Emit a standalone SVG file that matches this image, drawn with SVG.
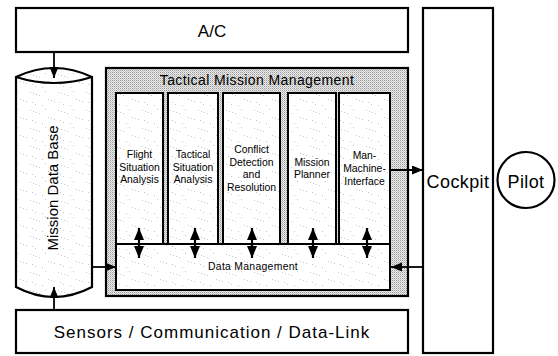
<svg xmlns="http://www.w3.org/2000/svg" width="558" height="356" viewBox="0 0 558 356">
  <defs>
    <!-- halftone grey used for the Tactical Mission Management frame -->
    <pattern id="halftone" width="2" height="2" patternUnits="userSpaceOnUse">
      <rect width="2" height="2" fill="#ececec"/>
      <rect width="1" height="1" fill="#9a9a9a"/>
      <rect x="1" y="1" width="1" height="1" fill="#c4c4c4"/>
    </pattern>
    <!-- faint dotted grain inside the white modules -->
    <pattern id="grain" width="28" height="18" patternUnits="userSpaceOnUse">
      <rect width="28" height="18" fill="#fff"/>
      <g fill="#c8c8c8">
        <rect x="2" y="2" width="1" height="1"/>
        <rect x="5" y="3" width="1" height="1"/>
        <rect x="8" y="4" width="1" height="1"/>
        <rect x="11" y="5" width="1" height="1"/>
        <rect x="17" y="1" width="1" height="1"/>
        <rect x="20" y="9" width="1" height="1"/>
        <rect x="23" y="10" width="1" height="1"/>
        <rect x="26" y="11" width="1" height="1"/>
        <rect x="4" y="12" width="1" height="1"/>
        <rect x="7" y="14" width="1" height="1"/>
        <rect x="14" y="15" width="1" height="1"/>
      </g>
    </pattern>
    <marker id="head" markerUnits="userSpaceOnUse" markerWidth="12" markerHeight="10" refX="11" refY="4.5" orient="auto-start-reverse">
      <path d="M0,0 L11,4.5 L0,9 Z" fill="#000"/>
    </marker>
    <marker id="dhead" markerUnits="userSpaceOnUse" markerWidth="13" markerHeight="11" refX="12" refY="5" orient="auto-start-reverse">
      <path d="M0,0 L12,5 L0,10 Z" fill="#000"/>
    </marker>
  </defs>
  <style>
    .box { fill: #fff; stroke: #000; stroke-width: 2.2; }
    .mod { fill: url(#grain); stroke: #000; stroke-width: 2; }
    .big { font-family: "Liberation Sans", Arial, sans-serif; fill: #000; text-anchor: middle; }
    .small { font-family: "Liberation Sans", Arial, sans-serif; font-size: 10.4px; fill: #000; text-anchor: middle; }
    .link { stroke: #000; stroke-width: 1.8; fill: none; }
    .dbl { stroke: #000; stroke-width: 2.2; fill: none; }
  </style>

  <rect width="558" height="356" fill="#fff"/>

  <g id="ac">
    <rect class="box" x="16" y="8" width="392" height="44"/>
    <text class="big" x="212" y="37" font-size="17">A/C</text>
  </g>

  <g id="cockpit">
    <rect class="box" x="423" y="8" width="70" height="345"/>
    <text class="big" x="458" y="188" font-size="18" letter-spacing="0.4">Cockpit</text>
  </g>

  <g id="pilot">
    <ellipse cx="526" cy="180" rx="28.5" ry="28" fill="#fff" stroke="#000" stroke-width="2.2"/>
    <text class="big" x="526" y="188" font-size="18" letter-spacing="0.4">Pilot</text>
  </g>

  <g id="sensors">
    <rect class="box" x="16" y="310" width="392" height="43"/>
    <text class="big" x="212" y="338" font-size="17" letter-spacing="1">Sensors / Communication / Data-Link</text>
  </g>

  <g id="mission-data-base">
    <path d="M16,77 L16,287 Q54,307 92,287 L92,77 Q54,59 16,77 Z" fill="url(#grain)" stroke="#000" stroke-width="2.2"/>
    <path d="M16,77 Q54,89 92,77" fill="none" stroke="#000" stroke-width="2"/>
    <text class="big" font-size="15" transform="translate(58,188) rotate(-90)">Mission Data Base</text>
  </g>

  <g id="tactical-mission-management">
    <rect x="106" y="68" width="302" height="228" fill="url(#halftone)" stroke="#000" stroke-width="2.2"/>
    <text class="big" x="257" y="85" font-size="14" letter-spacing="0.4">Tactical Mission Management</text>
  </g>

  <g id="flight-situation-analysis">
    <rect class="mod" x="116" y="93" width="47" height="151"/>
    <text class="small" x="139.5" y="158">Flight</text>
    <text class="small" x="139.5" y="171">Situation</text>
    <text class="small" x="139.5" y="183">Analysis</text>
  </g>

  <g id="tactical-situation-analysis">
    <rect class="mod" x="168" y="93" width="50" height="151"/>
    <text class="small" x="193" y="158">Tactical</text>
    <text class="small" x="193" y="171">Situation</text>
    <text class="small" x="193" y="183">Analysis</text>
  </g>

  <g id="conflict-detection-and-resolution">
    <rect class="mod" x="223" y="93" width="57" height="151"/>
    <text class="small" x="251.5" y="153">Conflict</text>
    <text class="small" x="251.5" y="166">Detection</text>
    <text class="small" x="251.5" y="178">and</text>
    <text class="small" x="251.5" y="191">Resolution</text>
  </g>

  <g id="mission-planner">
    <rect class="mod" x="288" y="93" width="48" height="151"/>
    <text class="small" x="312" y="166">Mission</text>
    <text class="small" x="312" y="178">Planner</text>
  </g>

  <g id="man-machine-interface">
    <rect class="mod" x="339" y="93" width="51" height="151"/>
    <text class="small" x="364.5" y="159">Man-</text>
    <text class="small" x="364.5" y="172">Machine-</text>
    <text class="small" x="364.5" y="185">Interface</text>
  </g>

  <g id="data-management">
    <rect class="mod" x="116" y="244" width="274" height="46"/>
    <text class="small" x="253" y="270" letter-spacing="0.3">Data Management</text>
  </g>

  <g id="connectors">
    <line class="link" x1="54" y1="52" x2="54" y2="78" marker-end="url(#head)"/>
    <line class="link" x1="54" y1="310" x2="54" y2="287" marker-end="url(#head)"/>
    <line class="link" x1="92" y1="267" x2="116" y2="267" marker-end="url(#head)"/>
    <line class="link" x1="390" y1="170" x2="423" y2="170" marker-end="url(#head)"/>
    <line class="link" x1="423" y1="267" x2="391" y2="267" marker-end="url(#head)"/>
    <line class="dbl" x1="139" y1="228" x2="139" y2="258" marker-start="url(#dhead)" marker-end="url(#dhead)"/>
    <line class="dbl" x1="195" y1="228" x2="195" y2="258" marker-start="url(#dhead)" marker-end="url(#dhead)"/>
    <line class="dbl" x1="252" y1="228" x2="252" y2="258" marker-start="url(#dhead)" marker-end="url(#dhead)"/>
    <line class="dbl" x1="313" y1="228" x2="313" y2="258" marker-start="url(#dhead)" marker-end="url(#dhead)"/>
    <line class="dbl" x1="367" y1="228" x2="367" y2="258" marker-start="url(#dhead)" marker-end="url(#dhead)"/>
  </g>
</svg>
